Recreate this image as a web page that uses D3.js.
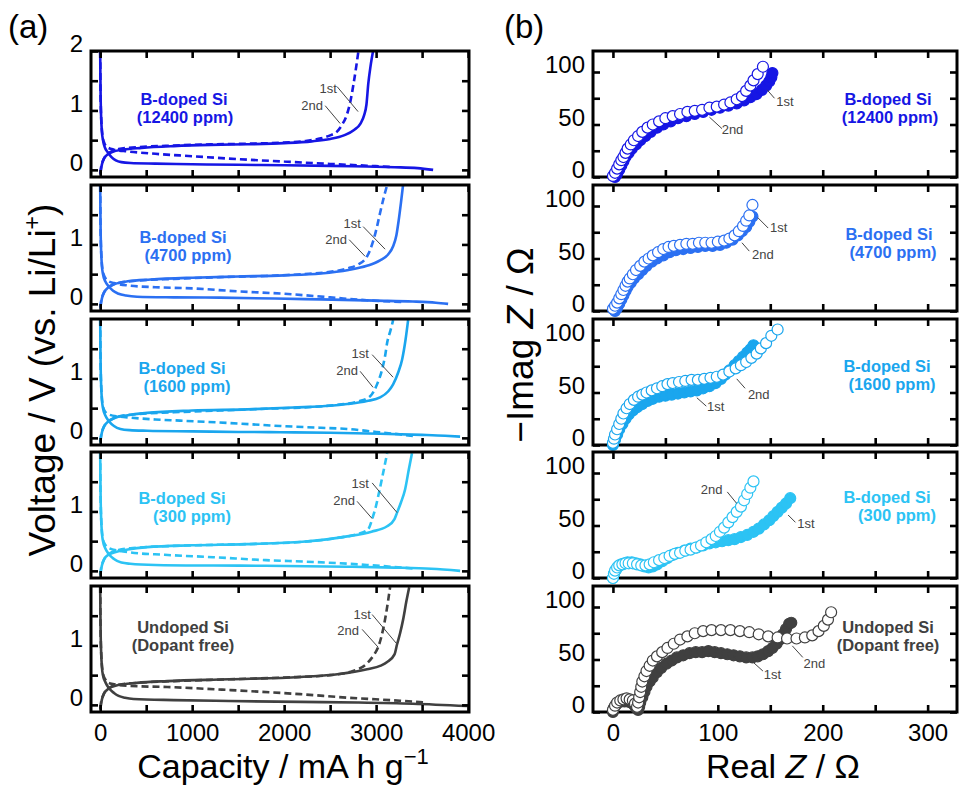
<!DOCTYPE html>
<html><head><meta charset="utf-8">
<script src="https://cdn.jsdelivr.net/npm/d3@7"></script>
<style>body{margin:0;background:#fff}svg{display:block}text{font-family:"Liberation Sans",Arial,Helvetica,sans-serif}</style>
</head><body><svg id="c" width="960" height="787"></svg>
<script>
// ---------------- data ----------------
const sampleNames = [["B-doped Si","(12400 ppm)"],["B-doped Si","(4700 ppm)"],["B-doped Si","(1600 ppm)"],["B-doped Si","(300 ppm)"],["Undoped Si","(Dopant free)"]];
const sampleColors = ["#1616e4","#2b70f2","#1aa6ee","#2cc3f4","#404040"];
const capTicks = [0,500,1000,1500,2000,2500,3000,3500,4000];
const capLabels = [0,1000,2000,3000,4000];
const voltTicks = [0,0.5,1,1.5];
const zReTicks = [0,50,100,150,200,250,300];
const zReLabels = [0,100,200,300];
const zImTicks = [0,25,50,75,100];
const zImLabels = [0,50,100];

// charge/discharge profiles [capacity mA h/g, voltage V]
const dis1_12400 = [[0,2.0],[2,1.6],[5,1.2],[10,0.9],[18,0.65],[30,0.5],[50,0.38],[80,0.3],[120,0.22],[170,0.16],[230,0.13],[330,0.115],[600,0.105],[1000,0.095],[1500,0.085],[2000,0.078],[2500,0.068],[2900,0.056],[3200,0.045],[3450,0.03],[3620,0.0]];
const chg1_12400 = [[2,-0.08],[8,0.0],[20,0.1],[45,0.2],[80,0.26],[130,0.3],[250,0.34],[450,0.37],[800,0.4],[1200,0.42],[1600,0.43],[2000,0.45],[2300,0.48],[2500,0.52],[2650,0.58],[2760,0.67],[2830,0.78],[2870,0.92],[2895,1.1],[2915,1.45],[2940,1.75],[2967,2.0]];
const dis2_12400 = [[0,2.0],[3,1.4],[8,1.0],[15,0.75],[25,0.58],[45,0.45],[80,0.38],[150,0.34],[300,0.31],[600,0.27],[1000,0.23],[1500,0.18],[2000,0.14],[2500,0.1],[2900,0.07],[3150,0.05]];
const chg2_12400 = [[2,-0.06],[10,0.05],[30,0.15],[60,0.24],[110,0.3],[200,0.35],[400,0.38],[800,0.41],[1200,0.43],[1600,0.44],[2000,0.46],[2250,0.49],[2400,0.53],[2500,0.58],[2572,0.64],[2630,0.76],[2680,0.92],[2720,1.15],[2755,1.45],[2785,1.75],[2808,2.0]];

const dis1_4700 = [[0,2.0],[2,1.6],[5,1.2],[10,0.9],[18,0.65],[30,0.5],[55,0.38],[90,0.3],[140,0.22],[200,0.17],[280,0.14],[400,0.12],[800,0.11],[1300,0.105],[1900,0.09],[2400,0.075],[3000,0.055],[3400,0.04],[3650,0.02],[3783,0.0]];
const chg1_4700 = [[2,-0.08],[8,0.0],[20,0.1],[45,0.2],[90,0.28],[150,0.33],[300,0.38],[550,0.41],[1000,0.44],[1500,0.46],[2000,0.48],[2400,0.51],[2700,0.57],[2900,0.64],[3043,0.73],[3130,0.83],[3185,0.97],[3220,1.15],[3245,1.4],[3270,1.7],[3293,2.0]];
const dis2_4700 = [[0,2.0],[3,1.4],[8,1.0],[15,0.75],[25,0.58],[50,0.45],[90,0.38],[150,0.35],[300,0.31],[600,0.28],[1000,0.26],[1500,0.21],[2000,0.17],[2500,0.11],[2900,0.06],[3300,0.03]];
const chg2_4700 = [[2,-0.06],[10,0.05],[30,0.15],[60,0.24],[110,0.3],[200,0.35],[400,0.39],[800,0.42],[1300,0.45],[1800,0.47],[2200,0.5],[2500,0.54],[2700,0.6],[2800,0.66],[2902,0.8],[2967,1.05],[3010,1.3],[3043,1.53],[3085,1.8],[3120,2.0]];

const dis1_1600 = [[0,2.0],[2,1.6],[5,1.2],[10,0.9],[18,0.65],[30,0.5],[55,0.38],[95,0.28],[150,0.2],[220,0.15],[320,0.13],[511,0.12],[1000,0.11],[1500,0.1],[1957,0.095],[2500,0.085],[3043,0.07],[3500,0.05],[3750,0.035],[3913,0.02]];
const chg1_1600 = [[2,-0.08],[8,0.0],[20,0.1],[45,0.2],[90,0.28],[150,0.33],[300,0.38],[511,0.42],[1000,0.46],[1598,0.48],[2100,0.51],[2500,0.54],[2685,0.57],[2900,0.62],[3043,0.68],[3130,0.78],[3185,0.9],[3240,1.1],[3283,1.32],[3320,1.65],[3348,1.98]];
const dis2_1600 = [[0,2.0],[3,1.4],[8,1.0],[15,0.75],[25,0.58],[50,0.45],[100,0.39],[200,0.36],[326,0.34],[600,0.31],[870,0.29],[1400,0.25],[1957,0.2],[2400,0.17],[2685,0.15],[3000,0.1],[3250,0.06],[3400,0.03]];
const chg2_1600 = [[2,-0.06],[10,0.05],[30,0.15],[60,0.24],[110,0.3],[200,0.36],[400,0.4],[800,0.43],[1300,0.46],[1800,0.49],[2300,0.52],[2600,0.56],[2800,0.61],[2935,0.7],[3010,0.9],[3065,1.15],[3100,1.4],[3120,1.6],[3155,1.8],[3185,1.98]];

const dis1_300 = [[0,2.0],[2,1.6],[5,1.2],[10,0.9],[18,0.65],[30,0.5],[55,0.38],[95,0.28],[150,0.2],[230,0.14],[326,0.12],[600,0.1],[1228,0.09],[1800,0.085],[2685,0.07],[3200,0.055],[3600,0.035],[3913,0.0]];
const chg1_300 = [[2,-0.08],[8,0.0],[20,0.1],[45,0.2],[90,0.27],[150,0.31],[300,0.36],[511,0.4],[1000,0.43],[1598,0.45],[2200,0.49],[2685,0.58],[2950,0.66],[3120,0.75],[3200,0.87],[3228,0.98],[3270,1.15],[3315,1.37],[3355,1.7],[3390,1.98]];
const dis2_300 = [[0,2.0],[3,1.4],[8,1.0],[15,0.75],[25,0.58],[50,0.45],[100,0.38],[200,0.34],[326,0.31],[700,0.27],[1228,0.23],[1800,0.18],[2315,0.15],[2900,0.1],[3400,0.04]];
const chg2_300 = [[2,-0.06],[10,0.05],[30,0.15],[60,0.24],[110,0.3],[200,0.35],[400,0.39],[800,0.42],[1300,0.44],[1800,0.46],[2300,0.5],[2600,0.56],[2800,0.62],[2913,0.7],[2967,0.92],[3000,1.1],[3022,1.25],[3070,1.6],[3120,1.98]];

const dis1_undoped = [[0,2.0],[2,1.6],[5,1.2],[10,0.9],[18,0.65],[30,0.5],[60,0.37],[100,0.27],[150,0.2],[200,0.15],[270,0.12],[362,0.1],[800,0.08],[1400,0.065],[2174,0.05],[2800,0.04],[3400,0.02],[3990,-0.02]];
const chg1_undoped = [[2,-0.08],[8,0.0],[20,0.1],[45,0.2],[90,0.27],[185,0.33],[400,0.37],[728,0.4],[1400,0.43],[2174,0.47],[2600,0.52],[2902,0.6],[3050,0.66],[3120,0.72],[3200,0.85],[3228,1.02],[3260,1.2],[3293,1.43],[3330,1.75],[3360,1.98]];
const dis2_undoped = [[0,2.0],[3,1.4],[8,1.0],[15,0.75],[25,0.58],[50,0.44],[109,0.36],[300,0.32],[728,0.3],[1400,0.25],[2174,0.18],[2700,0.12],[3260,0.07],[3550,0.04]];
const chg2_undoped = [[2,-0.06],[10,0.05],[30,0.15],[60,0.24],[110,0.3],[200,0.34],[400,0.37],[800,0.4],[1400,0.43],[2000,0.46],[2500,0.5],[2750,0.57],[2902,0.7],[2980,0.85],[3022,0.97],[3076,1.27],[3110,1.55],[3152,1.98]];

// Nyquist plots [Real Z, -Imag Z] (ohm)
const eis1_12400 = [[2,0],[4,3],[6,7],[8,11],[10,15],[12,19],[15,23],[18,27],[22,31],[26,35],[31,39],[36,43],[42,47],[48,50],[55,53],[62,56],[70,58],[78,60],[86,62],[94,64],[102,66],[110,68],[118,70],[125,73],[131,76],[137,79],[142,83],[146,87],[149,91],[151,95],[152,99]];
const eis2_12400 = [[0,1],[2,4],[4,8],[6,12],[8,16],[10,19],[12,23],[14,27],[17,31],[20,35],[24,39],[28,43],[33,47],[38,50],[44,53],[50,56],[57,58],[64,60],[71,62],[78,63],[85,64],[92,66],[99,67],[106,69],[112,71],[118,74],[123,77],[127,82],[131,87],[134,92],[138,98],[143,105]];
const eis1_4700 = [[2,0],[4,3],[6,7],[8,11],[10,15],[12,19],[14,23],[17,27],[20,31],[24,35],[28,39],[32,43],[37,47],[42,50],[48,53],[54,56],[60,58],[67,59],[74,60],[81,61],[88,62],[95,62],[102,63],[108,65],[114,68],[119,72],[123,76],[127,80],[130,85],[133,90]];
const eis2_4700 = [[0,2],[2,5],[4,8],[6,12],[8,16],[10,20],[12,24],[14,28],[16,31],[19,35],[22,39],[26,43],[30,47],[34,50],[38,53],[43,56],[48,59],[53,61],[58,62],[64,63],[70,64],[76,64],[82,65],[88,65],[94,65],[100,66],[106,67],[111,69],[116,72],[120,76],[124,81],[127,86],[130,91],[133,101]];
const eis1_1600 = [[0,0],[2,5],[4,10],[6,15],[9,20],[12,25],[15,29],[19,33],[23,36],[28,39],[33,42],[38,44],[44,46],[50,47],[56,48],[62,49],[68,50],[74,51],[80,52],[86,54],[92,56],[98,59],[103,63],[107,67],[111,71],[116,76],[120,80],[124,84],[128,88],[131,91],[134,95]];
const eis2_1600 = [[0,2],[1,6],[2,10],[4,15],[6,20],[8,25],[10,30],[13,35],[16,39],[20,43],[24,46],[28,48],[32,50],[37,52],[42,54],[47,56],[52,58],[57,59],[63,60],[69,61],[75,62],[81,62],[87,63],[93,64],[99,65],[105,67],[111,70],[117,73],[122,76],[127,79],[132,83],[137,87],[141,92],[146,97],[151,104],[157,110]];
const eis1_300 = [[0,0],[1,4],[3,8],[5,11],[8,13],[11,14],[14,15],[18,15],[22,14],[26,13],[30,11],[34,10],[38,11],[42,13],[47,16],[52,19],[57,22],[62,24],[68,26],[74,28],[80,29],[86,31],[92,33],[98,34],[104,35],[110,36],[116,37],[122,39],[128,41],[134,44],[139,47],[144,51],[149,55],[153,59],[157,63],[161,67],[165,71],[169,76]];
const eis2_300 = [[0,0],[1,4],[2,7],[4,10],[6,12],[9,13],[12,14],[15,14],[19,14],[23,13],[27,12],[31,12],[35,13],[39,15],[44,17],[49,19],[54,21],[59,23],[64,24],[69,26],[74,27],[79,29],[84,31],[89,34],[94,37],[98,40],[102,44],[106,48],[110,53],[114,58],[118,63],[122,68],[125,74],[128,80],[131,86],[134,92]];
const eis1_undoped = [[0,0],[1,4],[3,7],[5,9],[8,10],[11,10],[14,10],[17,9],[20,7],[22,4],[24,2],[25,5],[26,9],[28,14],[30,19],[32,24],[35,29],[38,33],[42,38],[46,42],[51,46],[56,49],[61,52],[67,54],[73,56],[79,57],[85,57],[91,58],[97,57],[103,56],[109,55],[115,54],[121,53],[127,52],[133,52],[138,53],[143,55],[148,58],[152,61],[156,65],[159,69],[162,74],[165,79],[168,84],[170,85]];
const eis2_undoped = [[0,2],[2,6],[4,9],[7,11],[10,12],[13,13],[16,12],[19,11],[21,8],[23,5],[24,9],[25,14],[26,19],[27,24],[28,29],[30,34],[32,39],[35,44],[38,49],[42,53],[47,57],[52,61],[58,65],[64,69],[71,72],[78,75],[86,77],[94,78],[103,78],[112,78],[121,77],[130,76],[139,74],[148,72],[157,71],[166,70],[175,70],[183,71],[190,73],[196,77],[201,82],[205,88],[208,95]];

// annotation anchors: [label, textX, textY, lineX1, lineY1, lineX2, lineY2] in data units
const annotA = [
 [["1st",2478,1.3,2576,1.4,2804,0.98],["2nd",2304,1.0,2446,1.08,2609,0.78]],
 [["1st",2739,1.28,2859,1.3,3098,0.92],["2nd",2565,1.0,2707,1.08,2880,0.8]],
 [["1st",2826,1.35,2957,1.4,3185,1.02],["2nd",2685,1.05,2826,1.12,2967,0.85]],
 [["1st",2826,1.4,2957,1.48,3228,0.98],["2nd",2652,1.1,2793,1.17,2957,0.88]],
 [["1st",2848,1.45,2957,1.52,3228,1.02],["2nd",2696,1.17,2848,1.27,3022,0.97]]];
const annotB = [
 [["1st",164,68,147,83,154,75],["2nd",114,41,92,57,104,46]],
 [["1st",158,75,138,89,148,79],["2nd",143,50,123,65,130,57]],
 [["1st",98,32,80,45,89,37],["2nd",139,44,118,63,126,54]],
 [["1st",184,48,167,60,174,53],["2nd",94,80,109,82,118,71]],
 [["1st",152,31,133,48,143,39],["2nd",192,42,171,63,181,52]]];

const gcd = [
 [dis1_12400,chg1_12400,dis2_12400,chg2_12400],
 [dis1_4700,chg1_4700,dis2_4700,chg2_4700],
 [dis1_1600,chg1_1600,dis2_1600,chg2_1600],
 [dis1_300,chg1_300,dis2_300,chg2_300],
 [dis1_undoped,chg1_undoped,dis2_undoped,chg2_undoped]];
const eis = [
 [eis1_12400,eis2_12400],[eis1_4700,eis2_4700],[eis1_1600,eis2_1600],[eis1_300,eis2_300],[eis1_undoped,eis2_undoped]];

// ---------------- layout ----------------
const svg = d3.select("#c");
const TOPS = [51,185,319,452,586], PH = 126;
const labelOffA = [[54,72,184,185],[58,76,183,188],[55,73,182,187],[52,70,182,192],[47,65,183,183]];
const labelOffB = [[54,72,888,890],[55,73,889,893],[53,71,887,892],[51,69,887,897],[47,65,888,888]];
const xA = d3.scaleLinear().domain([-100,4010]).range([91,469]);
const xB = d3.scaleLinear().domain([-19,328]).range([593,957]);
const TK = 7;

svg.append("defs");
function frameAxes(g, x, y, top, xT, yT, yLab, xLab, showX){
  const L = x.range()[0], R = x.range()[1];
  g.append("g").attr("transform",`translate(0,${top})`).call(d3.axisTop(x).tickValues(xT).tickSize(-TK).tickFormat(""));
  g.append("g").attr("transform",`translate(0,${top+PH})`).call(d3.axisBottom(x).tickValues(xT).tickSize(-TK).tickPadding(12).tickFormat(d=> showX && xLab.includes(d) ? d : ""));
  const ly = g.append("g").attr("transform",`translate(${L},0)`).call(d3.axisLeft(y).tickValues(yT.concat(yLab.filter(v=>!yT.includes(v)))).tickSize(-TK).tickPadding(8).tickFormat(d=> yLab.includes(d)? d : ""));
  g.append("g").attr("transform",`translate(${R},0)`).call(d3.axisRight(y).tickValues(yT).tickSize(-TK).tickFormat(""));
  g.selectAll(".domain").remove();
  g.selectAll(".tick line").attr("stroke","#000").attr("stroke-width",2.6);
  g.selectAll(".tick text").attr("fill","#000").style("font-size","24px").style("font-family","'Liberation Sans',Arial,sans-serif");
  ly.selectAll(".tick text").attr("y",-7);
  g.append("rect").attr("x",L).attr("y",top).attr("width",R-L).attr("height",PH)
    .attr("fill","none").attr("stroke","#000").attr("stroke-width",3);
}

gcd.forEach((curves,i)=>{
  const top = TOPS[i], col = sampleColors[i];
  const y = d3.scaleLinear().domain([-0.12,2]).range([top+PH, top]);
  const g = svg.append("g");
  const cid = "clipA"+i;
  svg.select("defs").append("clipPath").attr("id",cid).append("rect")
     .attr("x",xA.range()[0]).attr("y",top).attr("width",xA.range()[1]-xA.range()[0]).attr("height",PH);
  const line = d3.line().x(d=>xA(d[0])).y(d=>y(d[1])).curve(d3.curveMonotoneX);
  const cg = g.append("g").attr("clip-path",`url(#${cid})`);
  curves.forEach((c,k)=>{
    cg.append("path").attr("d",line(c)).attr("fill","none").attr("stroke",col)
      .attr("stroke-width",2.6).attr("stroke-dasharray", k>=2 ? "7,4" : null);
  });
  annotA[i].forEach(a=>{
    g.append("line").attr("x1",xA(a[3])).attr("y1",y(a[4])).attr("x2",xA(a[5])).attr("y2",y(a[6]))
      .attr("stroke","#444").attr("stroke-width",1);
    g.append("text").attr("x",xA(a[1])).attr("y",y(a[2])).attr("text-anchor","middle")
      .attr("fill","#444").style("font-size","13px").text(a[0]);
  });
  const lo = labelOffA[i];
  g.append("text").attr("x",lo[2]).attr("y",top+lo[0]).attr("text-anchor","middle").attr("fill",col)
    .style("font-size","16.5px").style("font-weight","bold").text(sampleNames[i][0]);
  g.append("text").attr("x",lo[3]).attr("y",top+lo[1]).attr("text-anchor","middle").attr("fill",col)
    .style("font-size","16.5px").style("font-weight","bold").text(sampleNames[i][1]);
  frameAxes(g, xA, y, top, capTicks, voltTicks, i===0?[0,1,2]:[0,1], capLabels, i===4);
});

eis.forEach((sets,i)=>{
  const top = TOPS[i], col = sampleColors[i];
  const y = d3.scaleLinear().domain([0,120]).range([top+PH, top]);
  const g = svg.append("g");
  frameAxes(g, xB, y, top, zReTicks, zImTicks, zImLabels, zReLabels, i===4);
  const pg = g.append("g");
  pg.selectAll("circle.f").data(sets[0]).join("circle").attr("class","f")
    .attr("cx",d=>xB(d[0])).attr("cy",d=>y(d[1])).attr("r",5.5)
    .attr("fill",col).attr("stroke",col).attr("stroke-width",1.2);
  pg.selectAll("circle.o").data(sets[1]).join("circle").attr("class","o")
    .attr("cx",d=>xB(d[0])).attr("cy",d=>y(d[1])).attr("r",5.5)
    .attr("fill","#fff").attr("stroke",col).attr("stroke-width",1.2);
  annotB[i].forEach(a=>{
    g.append("line").attr("x1",xB(a[3])).attr("y1",y(a[4])).attr("x2",xB(a[5])).attr("y2",y(a[6]))
      .attr("stroke","#444").attr("stroke-width",1);
    g.append("text").attr("x",xB(a[1])).attr("y",y(a[2])).attr("text-anchor","middle")
      .attr("fill","#444").style("font-size","13px").text(a[0]);
  });
  const lo = labelOffB[i];
  g.append("text").attr("x",lo[2]).attr("y",top+lo[0]).attr("text-anchor","middle").attr("fill",col)
    .style("font-size","16.5px").style("font-weight","bold").text(sampleNames[i][0]);
  g.append("text").attr("x",lo[3]).attr("y",top+lo[1]).attr("text-anchor","middle").attr("fill",col)
    .style("font-size","16.5px").style("font-weight","bold").text(sampleNames[i][1]);
});

// panel letters and axis titles
svg.append("text").attr("x",8).attr("y",38).style("font-size","33px").text("(a)");
svg.append("text").attr("x",504).attr("y",38).style("font-size","33px").text("(b)");

const ty = svg.append("text").attr("transform","translate(55,380) rotate(-90)").attr("text-anchor","middle").style("font-size","37px");
ty.append("tspan").text("Voltage / V (vs. Li/Li");
ty.append("tspan").attr("dy",-15).style("font-size","23px").text("+");
ty.append("tspan").attr("dy",15).text(")");

const tyb = svg.append("text").attr("transform","translate(533,345) rotate(-90)").attr("text-anchor","middle").style("font-size","37px");
tyb.append("tspan").text("\u2212Imag ");
tyb.append("tspan").style("font-style","italic").text("Z");
tyb.append("tspan").text(" / \u03A9");

const tx = svg.append("text").attr("x",283).attr("y",778).attr("text-anchor","middle").style("font-size","34px");
tx.append("tspan").text("Capacity / mA h g");
tx.append("tspan").attr("dy",-14).style("font-size","22px").text("\u22121");

const txb = svg.append("text").attr("x",783).attr("y",778).attr("text-anchor","middle").style("font-size","34px");
txb.append("tspan").text("Real ");
txb.append("tspan").style("font-style","italic").text("Z");
txb.append("tspan").text(" / \u03A9");
</script></body></html>
